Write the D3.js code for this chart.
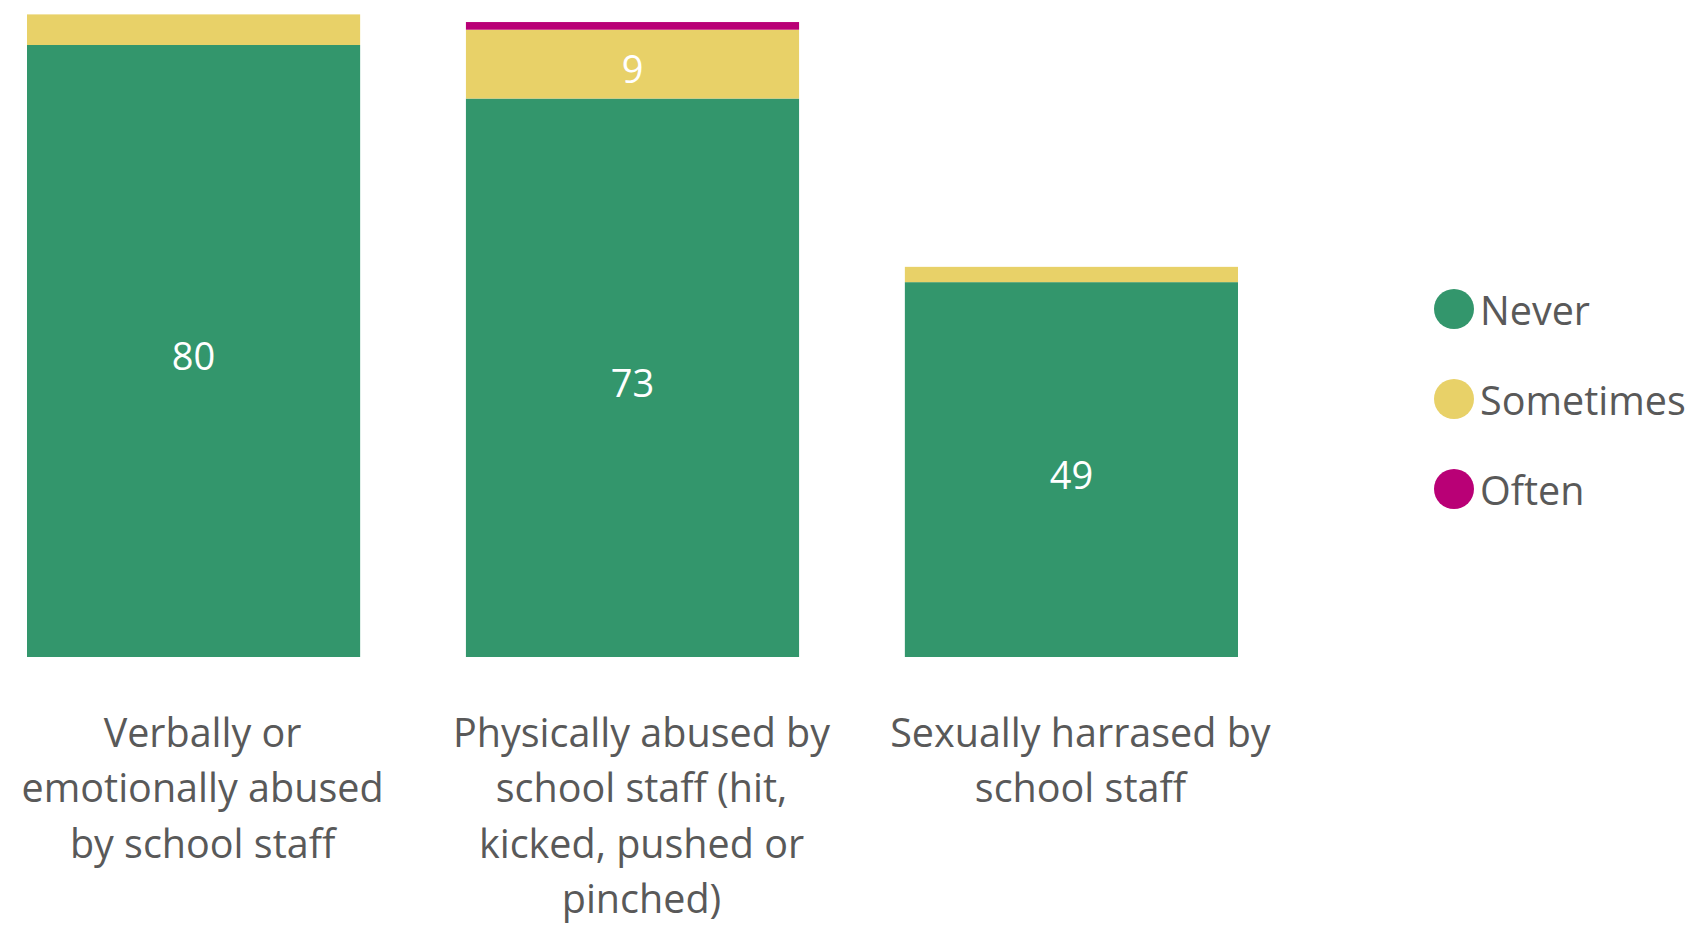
<!DOCTYPE html>
<html>
<head>
<meta charset="utf-8">
<script src="https://cdn.jsdelivr.net/npm/d3@7"></script>
<style>
  body { margin: 0; background: #fff; }
  text { font-family: "Open Sans", "Noto Sans", sans-serif; }
</style>
</head>
<body>
<div id="chart"></div>
<script>
//----------------------------------------------------------------
// data
var categories = [
  "Verbally or emotionally abused by school staff",
  "Physically abused by school staff (hit, kicked, pushed or pinched)",
  "Sexually harrased by school staff"
];
var seriesNames = ["Never", "Sometimes", "Often"];
var never = [80, 73, 49];
var sometimes = [4, 9, 2];
var often = [0, 1, 0];
var colours = ["#33966c", "#e8d168", "#b90076"];

//----------------------------------------------------------------
// svg
var largeur = 1701, hauteur = 927;
var svg = d3.select("#chart")
  .append("svg")
  .attr("width", largeur)
  .attr("height", hauteur);

var rows = categories.map(function(c, i) {
  return { cat: c, Never: never[i], Sometimes: sometimes[i], Often: often[i] };
});
var stacked = d3.stack().keys(seriesNames)(rows);

var x = d3.scaleBand()
  .domain(categories)
  .range([27, 1238])
  .paddingInner(0.241)
  .paddingOuter(0);

var y = d3.scaleLinear()
  .domain([0, 84])
  .range([657, 14.4]);

var colour = d3.scaleOrdinal().domain(seriesNames).range(colours);

//----------------------------------------------------------------
// bars
var layers = svg.selectAll(".layer")
  .data(stacked)
  .enter()
  .append("g")
  .attr("class", "layer")
  .attr("fill", function(d) { return colour(d.key); });

layers.selectAll("rect")
  .data(function(d) { return d; })
  .enter()
  .append("rect")
  .attr("x", function(d) { return x(d.data.cat); })
  .attr("width", x.bandwidth())
  .attr("y", function(d) { return y(d[1]); })
  .attr("height", function(d) { return y(d[0]) - y(d[1]); });

// value labels, only where the segment is tall enough
layers.selectAll(".val")
  .data(function(d) { return d; })
  .enter()
  .filter(function(d) { return y(d[0]) - y(d[1]) > 40; })
  .append("text")
  .attr("class", "val")
  .attr("x", function(d) { return x(d.data.cat) + x.bandwidth() / 2; })
  .attr("y", function(d) { return (y(d[0]) + y(d[1])) / 2; })
  .attr("dy", "0.5em")
  .attr("text-anchor", "middle")
  .attr("fill", "#ffffff")
  .style("font-size", "38px")
  .text(function(d) { return d[1] - d[0]; });

//----------------------------------------------------------------
// category labels (wrapped)
function wrapLines(str, maxW, sizePx) {
  var tmp = svg.append("text").style("font-size", sizePx + "px");
  var words = str.split(" "), lines = [], cur = "";
  words.forEach(function(w) {
    var test = cur ? cur + " " + w : w;
    tmp.text(test);
    if (tmp.node().getComputedTextLength() > maxW && cur) {
      lines.push(cur);
      cur = w;
    } else {
      cur = test;
    }
  });
  lines.push(cur);
  tmp.remove();
  return lines;
}

var catLabels = svg.selectAll(".cat")
  .data(categories)
  .enter()
  .append("text")
  .attr("class", "cat")
  .attr("text-anchor", "middle")
  .attr("fill", "#595959")
  .style("font-size", "39.5px");

catLabels.each(function(c) {
  var t = d3.select(this);
  var cx = x(c) + x.bandwidth() / 2 + 9;
  wrapLines(c, 400, 39.5).forEach(function(line, i) {
    t.append("tspan")
      .attr("x", cx)
      .attr("y", 747 + i * 55.3)
      .text(line);
  });
});

//----------------------------------------------------------------
// legend
var legend = svg.selectAll(".leg")
  .data(seriesNames)
  .enter()
  .append("g")
  .attr("class", "leg")
  .attr("transform", function(d, i) { return "translate(1454," + (309 + i * 90) + ")"; });

legend.append("circle")
  .attr("r", 20)
  .attr("fill", function(d) { return colour(d); });

legend.append("text")
  .attr("x", 26)
  .attr("y", 16)
  .attr("fill", "#595959")
  .style("font-size", "39.5px")
  .text(function(d) { return d; });
</script>
</body>
</html>
